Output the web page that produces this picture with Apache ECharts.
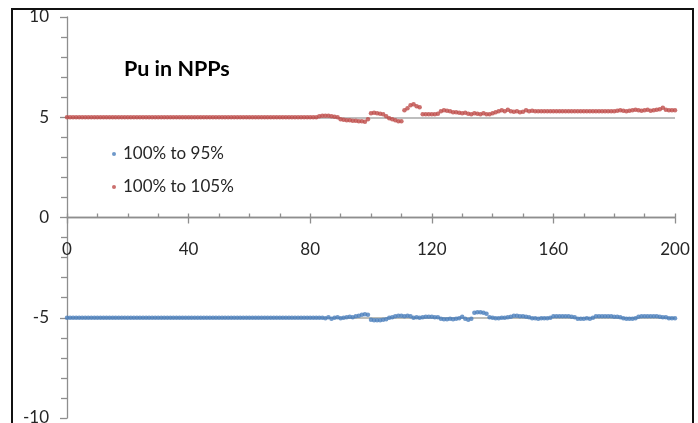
<!DOCTYPE html>
<html>
<head>
<meta charset="utf-8">
<script src="https://cdn.jsdelivr.net/npm/echarts@6/dist/echarts.min.js"></script>
<style>
html,body{margin:0;padding:0;background:#fff;}
#chart{width:698px;height:423px;}
</style>
</head>
<body>
<div id="chart"></div>
<script>
// x = 0..200, one value per step
var xStart = 0;
var xTicks = [0, 40, 80, 120, 160, 200];
var yTicks = [-10, -5, 0, 5, 10];
var referenceLevels = [5, -5];
var chartTitle = 'Pu in NPPs';
var seriesNames = ['100% to 95%', '100% to 105%'];

var blue95 = [
 -5,-5,-5,-5,-5,-5,-5,-5,-5,-5,
 -5,-5,-5,-5,-5,-5,-5,-5,-5,-5,
 -5,-5,-5,-5,-5,-5,-5,-5,-5,-5,
 -5,-5,-5,-5,-5,-5,-5,-5,-5,-5,
 -5,-5,-5,-5,-5,-5,-5,-5,-5,-5,
 -5,-5,-5,-5,-5,-5,-5,-5,-5,-5,
 -5,-5,-5,-5,-5,-5,-5,-5,-5,-5,
 -5,-5,-5,-5,-5,-5,-5,-5,-5,-5,
 -5,-5,-5,-5,-5,-5.02,-4.98,-5.05,-5.0,-4.97,
 -5.03,-5.0,-4.98,-4.95,-4.97,-4.93,-4.9,-4.85,-4.82,-4.85,
 -5.1,-5.12,-5.13,-5.12,-5.1,-5.08,-5.0,-4.97,-4.92,-4.9,
 -4.9,-4.92,-4.9,-4.92,-5.0,-4.98,-5.0,-4.97,-4.95,-4.95,
 -4.95,-4.97,-4.97,-5.05,-5.07,-5.07,-5.05,-5.07,-5.05,-5.03,
 -4.95,-5.05,-5.1,-5.05,-4.75,-4.72,-4.72,-4.75,-4.8,-4.98,
 -5.0,-5.02,-5.02,-5.0,-5.0,-4.97,-4.95,-4.9,-4.9,-4.92,
 -4.93,-4.95,-4.98,-5.03,-5.03,-5.05,-5.03,-5.02,-5.03,-5.0,
 -4.93,-4.92,-4.93,-4.92,-4.93,-4.93,-4.95,-4.98,-5.05,-5.05,
 -5.05,-5.03,-5.05,-5.0,-4.93,-4.93,-4.92,-4.93,-4.92,-4.93,
 -4.95,-4.95,-4.97,-5.03,-5.05,-5.05,-5.05,-5.03,-4.95,-4.93,
 -4.93,-4.92,-4.93,-4.93,-4.92,-4.95,-4.97,-4.98,-5.02,-5.02,
 -5.03
];

var red105 = [
 5,5,5,5,5,5,5,5,5,5,
 5,5,5,5,5,5,5,5,5,5,
 5,5,5,5,5,5,5,5,5,5,
 5,5,5,5,5,5,5,5,5,5,
 5,5,5,5,5,5,5,5,5,5,
 5,5,5,5,5,5,5,5,5,5,
 5,5,5,5,5,5,5,5,5,5,
 5,5,5,5,5,5,5,5,5,5,
 5,5,5,5.05,5.07,5.08,5.07,5.05,5.03,5.0,
 4.9,4.88,4.85,4.85,4.83,4.82,4.8,4.8,4.78,4.9,
 5.2,5.22,5.2,5.18,5.15,5.05,4.95,4.9,4.85,4.8,
 4.8,5.35,5.45,5.6,5.65,5.55,5.5,5.15,5.15,5.15,
 5.15,5.15,5.18,5.3,5.35,5.32,5.3,5.25,5.25,5.22,
 5.2,5.22,5.18,5.15,5.2,5.18,5.15,5.2,5.15,5.15,
 5.2,5.25,5.3,5.35,5.3,5.38,5.3,5.28,5.3,5.25,
 5.28,5.35,5.3,5.32,5.3,5.3,5.3,5.3,5.3,5.3,
 5.3,5.3,5.3,5.3,5.3,5.3,5.3,5.3,5.3,5.3,
 5.3,5.3,5.3,5.3,5.3,5.3,5.3,5.3,5.3,5.3,
 5.3,5.32,5.35,5.33,5.3,5.33,5.35,5.38,5.35,5.33,
 5.35,5.38,5.33,5.35,5.38,5.4,5.48,5.38,5.35,5.35,
 5.35
];

function toPairs(arr) {
  return arr.map(function (v, i) { return [xStart + i, v]; });
}

var FONT = 'Lato';
var AXIS_COLOR = '#8e8e8e';
var TEXT_COLOR = '#262626';

var chart = echarts.init(document.getElementById('chart'), null, {renderer: 'canvas'});

var gridCommon = {left: 67, top: 17, width: 608, containLabel: false, outerBoundsMode: 'none'};
// grid 0: plotting area (full y range); grids 1 and 2: upper half, whose bottom edge is y = 0
var grids = [
  Object.assign({height: 401}, gridCommon),
  Object.assign({height: 200.5}, gridCommon),
  Object.assign({height: 200.5}, gridCommon)
];

var xBase = {
  type: 'value',
  min: xTicks[0],
  max: xTicks[xTicks.length - 1],
  interval: 40,
  splitLine: {show: false}
};
var yBase = {
  type: 'value',
  min: yTicks[0],
  max: yTicks[yTicks.length - 1],
  interval: 5,
  splitLine: {show: false}
};

chart.setOption({
  animation: false,
  backgroundColor: '#ffffff',
  title: {
    text: chartTitle,
    left: 124,
    top: 57,
    padding: 0,
    textStyle: {fontFamily: FONT, fontSize: 21.5, fontWeight: 'bold', color: '#000', lineHeight: 24}
  },
  legend: {
    orient: 'vertical',
    left: 112,
    top: 144,
    padding: 0,
    itemGap: 13,
    itemWidth: 8,
    itemHeight: 4,
    icon: 'circle',
    data: seriesNames,
    textStyle: {fontFamily: FONT, fontSize: 17, color: TEXT_COLOR, lineHeight: 20}
  },
  graphic: [{
    type: 'rect',
    shape: {x: 12, y: 9, width: 681, height: 440},
    style: {fill: 'none', stroke: '#111', lineWidth: 2},
    silent: true,
    z: 100
  }],
  grid: grids,
  xAxis: [Object.assign({}, xBase, {
    gridIndex: 0,
    show: false
  }), Object.assign({}, xBase, {
    gridIndex: 1,
    position: 'bottom',
    axisLine: {show: true, onZero: false, lineStyle: {color: AXIS_COLOR, width: 1.3}},
    axisTick: {show: true, inside: false, length: 6, lineStyle: {color: AXIS_COLOR, width: 1.3}},
    minorTick: {show: false},
    axisLabel: {margin: 24, fontFamily: FONT, fontSize: 17, color: TEXT_COLOR}
  }), Object.assign({}, xBase, {
    gridIndex: 2,
    position: 'bottom',
    axisLine: {show: true, onZero: false, lineStyle: {color: AXIS_COLOR, width: 1.3}},
    axisTick: {show: true, inside: true, length: 4, lineStyle: {color: AXIS_COLOR, width: 1.3}},
    minorTick: {show: true, splitNumber: 4, length: 4, lineStyle: {color: AXIS_COLOR, width: 1.3}},
    axisLabel: {show: false}
  })],
  yAxis: [Object.assign({}, yBase, {
    gridIndex: 0,
    axisLine: {show: true, onZero: false, lineStyle: {color: AXIS_COLOR, width: 1.3}},
    axisTick: {show: true, inside: false, length: 7, lineStyle: {color: AXIS_COLOR, width: 1.3}},
    minorTick: {show: true, splitNumber: 5, length: 6, lineStyle: {color: AXIS_COLOR, width: 1.3}},
    axisLabel: {margin: 18, fontFamily: FONT, fontSize: 17, color: TEXT_COLOR}
  }), {
    type: 'value', gridIndex: 1, min: 0, max: 10, show: false
  }, {
    type: 'value', gridIndex: 2, min: 0, max: 10, show: false
  }],
  series: [{
    name: seriesNames[0],
    type: 'scatter',
    xAxisIndex: 0,
    yAxisIndex: 0,
    symbol: 'circle',
    symbolSize: 4.5,
    itemStyle: {color: '#4a7ebb'},
    data: toPairs(blue95),
    markLine: {
      silent: true,
      symbol: 'none',
      label: {show: false},
      lineStyle: {color: '#a8a8a0', width: 1.5, type: 'solid'},
      data: [{yAxis: referenceLevels[1]}],
      z: 1
    },
    z: 3
  }, {
    name: seriesNames[1],
    type: 'scatter',
    xAxisIndex: 0,
    yAxisIndex: 0,
    symbol: 'circle',
    symbolSize: 4.5,
    itemStyle: {color: '#be4b48'},
    data: toPairs(red105),
    markLine: {
      silent: true,
      symbol: 'none',
      label: {show: false},
      lineStyle: {color: '#a8a8a8', width: 1.5, type: 'solid'},
      data: [{yAxis: referenceLevels[0]}],
      z: 1
    },
    z: 3
  }]
});
</script>
</body>
</html>
